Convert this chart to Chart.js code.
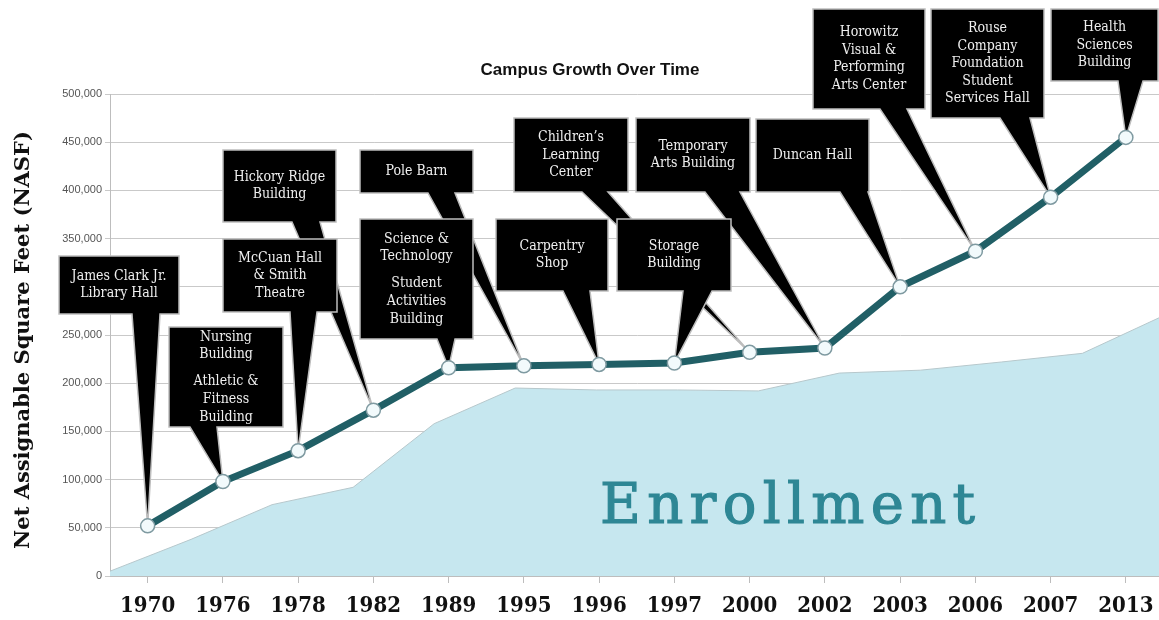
<!DOCTYPE html>
<html>
<head>
<meta charset="utf-8">
<title>Campus Growth Over Time</title>
<script src="https://cdn.jsdelivr.net/npm/chart.js@4"></script>
<style>
  html, body { margin: 0; padding: 0; background: #fff; overflow: hidden; }
  #wrap { position: relative; width: 1172px; height: 620px; }
</style>
</head>
<body>
<div id="wrap"><canvas id="growthChart" width="1172" height="620"></canvas></div>
<script>
// years on the x axis
const years = ['1970', '1976', '1978', '1982', '1989', '1995', '1996', '1997', '2000', '2002', '2003', '2006', '2007', '2013'];
// net assignable square feet after each opening
const nasf = [52000, 98000, 130000, 172000, 216000, 218000, 219500, 221000, 232000, 236500, 300000, 337000, 393000, 455000];
// enrollment backdrop, drawn on the NASF scale, spread edge to edge
const enrollment = [5000, 38000, 74000, 92000, 158000, 195000, 193000, 193000, 192000, 210500, 213500, 222000, 231000, 270000];
const yTicks = [0, 50000, 100000, 150000, 200000, 250000, 300000, 350000, 400000, 450000, 500000];

// callout texts (groups of lines) and the year index each one points to
const calloutText = [
    [['James Clark Jr.', 'Library Hall']],
    [['Nursing', 'Building'], ['Athletic &', 'Fitness', 'Building']],
    [['Hickory Ridge', 'Building']],
    [['McCuan Hall', '& Smith', 'Theatre']],
    [['Pole Barn']],
    [['Science &', 'Technology'], ['Student', 'Activities', 'Building']],
    [['Carpentry', 'Shop']],
    [['Children\u2019s', 'Learning', 'Center']],
    [['Temporary', 'Arts Building']],
    [['Storage', 'Building']],
    [['Duncan Hall']],
    [['Horowitz', 'Visual &', 'Performing', 'Arts Center']],
    [['Rouse', 'Company', 'Foundation', 'Student', 'Services Hall']],
    [['Health', 'Sciences', 'Building']]
];
const calloutTarget = [0, 1, 3, 2, 5, 4, 6, 8, 9, 7, 10, 11, 12, 13];

// box layout in pixels: x1, y1, x2, y2 and pointer base (bl..br on the bottom edge)
const calloutBox = [
    { x1: 59,   y1: 256, x2: 179,  y2: 314, bl: 132,  br: 160 },
    { x1: 169,  y1: 327, x2: 283,  y2: 427, bl: 190,  br: 217 },
    { x1: 223,  y1: 150, x2: 336,  y2: 222, bl: 292,  br: 320 },
    { x1: 223,  y1: 239, x2: 337,  y2: 312, bl: 290,  br: 317 },
    { x1: 360,  y1: 150, x2: 473,  y2: 193, bl: 428,  br: 455 },
    { x1: 360,  y1: 219, x2: 473,  y2: 339, bl: 437,  br: 455 },
    { x1: 496,  y1: 219, x2: 608,  y2: 291, bl: 563,  br: 590 },
    { x1: 514,  y1: 118, x2: 628,  y2: 192, bl: 582,  br: 608 },
    { x1: 636,  y1: 118, x2: 750,  y2: 192, bl: 705,  br: 740 },
    { x1: 617,  y1: 219, x2: 731,  y2: 291, bl: 683,  br: 712 },
    { x1: 756,  y1: 119, x2: 869,  y2: 192, bl: 840,  br: 868 },
    { x1: 813,  y1: 9,   x2: 925,  y2: 109, bl: 880,  br: 907 },
    { x1: 931,  y1: 9,   x2: 1044, y2: 118, bl: 1000, br: 1030 },
    { x1: 1051, y1: 9,   x2: 1158, y2: 81,  bl: 1118, br: 1143 }
];

const SLAB = '"DejaVu Serif Condensed", "DejaVu Serif", serif';

// enrollment word + callouts, drawn between the area and the line
const calloutPlugin = {
    id: 'callouts',
    afterDatasetDraw(chart, args) {
        if (args.index !== 0) return;
        const ctx = chart.ctx;
        const xs = chart.scales.x, ys = chart.scales.y;

        // big "Enrollment" word inside the area
        ctx.save();
        ctx.font = '56px "DejaVu Serif", serif';
        ctx.fillStyle = '#2e8795';
        ctx.strokeStyle = '#2e8795';
        ctx.lineWidth = 1.2;
        ctx.textAlign = 'left';
        ctx.textBaseline = 'alphabetic';
        const word = 'Enrollment';
        const w = ctx.measureText(word).width;
        ctx.letterSpacing = ((375 - w) / 9).toFixed(2) + 'px';
        ctx.fillText(word, 600, 523);
        ctx.strokeText(word, 600, 523);
        ctx.restore();

        calloutText.forEach((groups, i) => {
            const b = calloutBox[i];
            const idx = calloutTarget[i];
            const tx = xs.getPixelForValue(idx);
            const ty = ys.getPixelForValue(nasf[idx]);

            ctx.save();
            ctx.beginPath();
            ctx.moveTo(b.x1, b.y1);
            ctx.lineTo(b.x2, b.y1);
            ctx.lineTo(b.x2, b.y2);
            ctx.lineTo(b.br, b.y2);
            ctx.lineTo(tx, ty);
            ctx.lineTo(b.bl, b.y2);
            ctx.lineTo(b.x1, b.y2);
            ctx.closePath();
            ctx.fillStyle = '#000';
            ctx.fill();
            ctx.lineWidth = 1.5;
            ctx.strokeStyle = '#bdbdbd';
            ctx.lineJoin = 'miter';
            ctx.stroke();

            // text, centred in the box
            const lh = 17.6, gap = 9.5;
            let lines = 0;
            groups.forEach(g => lines += g.length);
            const blockH = (lines - 1) * lh + (groups.length - 1) * gap;
            let y = (b.y1 + b.y2) / 2 - blockH / 2;
            const cx = (b.x1 + b.x2) / 2;
            ctx.font = '14px ' + SLAB;
            ctx.fillStyle = '#efefef';
            ctx.textAlign = 'center';
            ctx.textBaseline = 'middle';
            groups.forEach(g => {
                g.forEach(line => {
                    ctx.fillText(line, cx, y);
                    y += lh;
                });
                y += gap;
            });
            ctx.restore();
        });
    },
    afterDraw(chart) {
        const ctx = chart.ctx;
        ctx.save();
        ctx.fillStyle = '#111';
        ctx.font = 'bold 17px "Liberation Sans", Arial, sans-serif';
        ctx.textAlign = 'center';
        ctx.textBaseline = 'middle';
        ctx.fillText('Campus Growth Over Time', 590, 70);

        ctx.translate(24, 340);
        ctx.rotate(-Math.PI / 2);
        ctx.font = 'bold 21px "DejaVu Serif", serif';
        ctx.fillText('Net Assignable Square Feet (NASF)', 0, 0);
        ctx.restore();
    }
};

new Chart(document.getElementById('growthChart'), {
    type: 'line',
    data: {
        labels: years,
        datasets: [{
            label: 'Enrollment',
            data: enrollment,
            xAxisID: 'x2',
            fill: 'origin',
            backgroundColor: '#c6e7ef',
            borderColor: '#b7c8cc',
            borderWidth: 1,
            pointRadius: 0,
            tension: 0,
            order: 2
        }, {
            label: 'NASF',
            data: nasf,
            xAxisID: 'x',
            fill: false,
            borderColor: '#215f66',
            borderWidth: 7,
            pointRadius: 7,
            pointHoverRadius: 7,
            pointBackgroundColor: '#f2fafc',
            pointBorderColor: '#7f9aa1',
            pointBorderWidth: 1.5,
            tension: 0,
            order: 1
        }]
    },
    options: {
        responsive: false,
        animation: false,
        layout: { padding: { top: 94, right: 2, left: 0, bottom: 0 } },
        plugins: {
            legend: { display: false },
            tooltip: { enabled: false },
            title: { display: false }
        },
        scales: {
            x: {
                type: 'category',
                offset: true,
                grid: { display: true, drawOnChartArea: false, drawTicks: true, tickLength: 7, color: '#bdbdbd' },
                border: { color: '#bdbdbd' },
                ticks: {
                    color: '#111',
                    padding: 10,
                    maxRotation: 0,
                    autoSkip: false,
                    font: { family: SLAB, size: 22, weight: 'bold' }
                },
                afterFit: s => { s.height = 44; }
            },
            x2: { type: 'category', offset: false, display: false },
            y: {
                min: 0,
                max: 500000,
                afterBuildTicks: s => { s.ticks = yTicks.map(v => ({ value: v })); },
                grid: { color: '#c9c9c9', tickLength: 5 },
                border: { color: '#bdbdbd' },
                ticks: {
                    color: '#555',
                    padding: 3,
                    font: { family: '"Liberation Sans", Arial, sans-serif', size: 11 },
                    callback: v => v.toLocaleString('en-US')
                },
                afterFit: s => { s.width = 110; }
            }
        }
    },
    plugins: [calloutPlugin]
});
</script>
</body>
</html>
